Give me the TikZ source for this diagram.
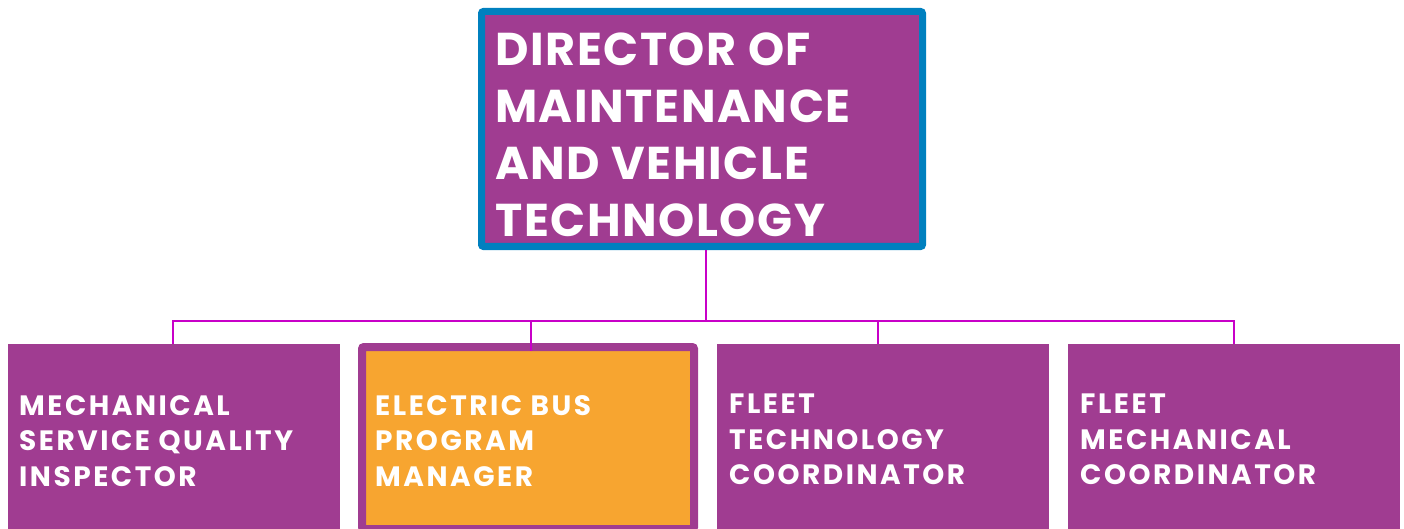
\documentclass[tikz,border=0pt]{standalone}
\usepackage{fontspec}
\setmainfont{Poppins}
\newfontfamily\bigface[LetterSpace=3.5]{Poppins}
\newfontfamily\smallface[LetterSpace=9]{Poppins}
\definecolor{boxpurple}{HTML}{A03C91}
\definecolor{boxblue}{HTML}{0080BF}
\definecolor{boxorange}{HTML}{F7A530}
\definecolor{linemag}{HTML}{C800C8}
\begin{document}
\begin{tikzpicture}[x=1pt,y=-1pt,
  box/.style={draw=none,fill=boxpurple,inner sep=0pt,outer sep=0pt},
  topbox/.style={draw=boxblue,line width=7pt,fill=boxpurple,rounded corners=2pt,inner sep=0pt,outer sep=0pt},
  hibox/.style={draw=boxpurple,line width=8pt,fill=boxorange,rounded corners=2pt,inner sep=0pt,outer sep=0pt},
  bigtxt/.style={anchor=north west,inner sep=0pt,align=left,text=white,font=\bigface\fontsize{46}{56.7}\selectfont\bfseries},
  smalltxt/.style={anchor=north west,inner sep=0pt,align=left,text=white,font=\smallface\fontsize{28}{35.5}\selectfont\bfseries},
  conn/.style={draw=linemag,line width=2pt}]
\useasboundingbox (0,0) rectangle (1404,529);
\clip (0,0) rectangle (1404,529);
% boxes
\node[topbox,minimum width=441pt,minimum height=235pt,anchor=north west] (top) at (481.5,11.5) {};
\node[box,minimum width=332pt,minimum height=200pt,anchor=north west] (b1) at (8,344) {};
\node[hibox,minimum width=332pt,minimum height=182pt,anchor=north west] (b2) at (362,347) {};
\node[box,minimum width=332pt,minimum height=200pt,anchor=north west] (b3) at (717,344) {};
\node[box,minimum width=332pt,minimum height=200pt,anchor=north west] (b4) at (1068,344) {};
% texts
\node[bigtxt] (t0) at (495,33) {DIRECTOR OF\\MAINTENANCE\\AND VEHICLE\\TECHNOLOGY};
\node[smalltxt] (t1) at (19,395) {MECHANICAL\\SERVICE QUALITY\\INSPECTOR};
\node[smalltxt] (t2) at (375,395) {ELECTRIC BUS\\PROGRAM\\MANAGER};
\node[smalltxt] (t3) at (729,394) {FLEET\\TECHNOLOGY\\COORDINATOR};
\node[smalltxt] (t4) at (1080,394) {FLEET\\MECHANICAL\\COORDINATOR};
% connectors
\coordinate (bus) at (706,320.5);
\draw[conn] ([xshift=4pt]top.south) ++(0,3.5) -- (bus);
\draw[conn] (bus) -| ([xshift=-1pt]b1.north);
\draw[conn] (bus) -| ([xshift=3pt,yshift=-4pt]b2.north);
\draw[conn] (bus) -| ([xshift=-5pt]b3.north);
\draw[conn] (bus) -| (b4.north);
\end{tikzpicture}
\end{document}
